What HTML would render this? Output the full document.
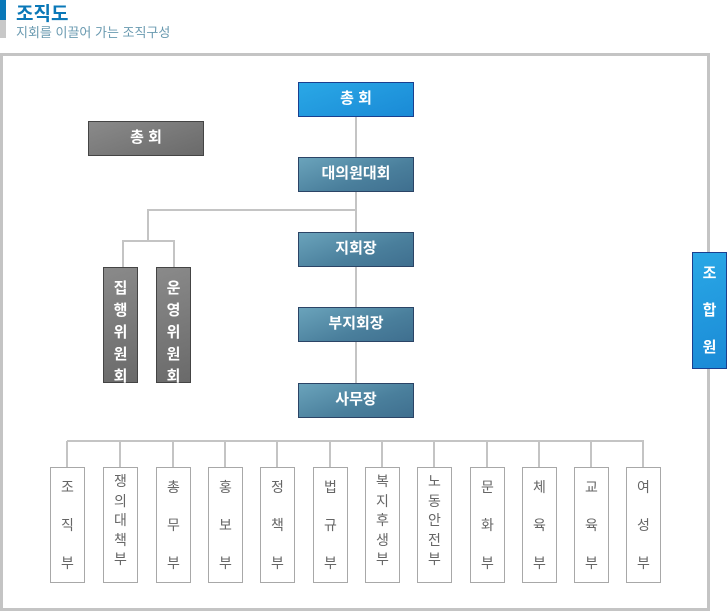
<!DOCTYPE html>
<html><head><meta charset="utf-8"><style>
*{margin:0;padding:0;box-sizing:border-box}
body{width:727px;height:612px;background:#fff;position:relative;overflow:hidden;font-family:"Liberation Sans","Noto Sans CJK KR",sans-serif}
.a{position:absolute}
.hb{position:absolute;color:#fff;font-weight:bold;font-size:15px;text-align:center;line-height:32px}
.blue{background:linear-gradient(160deg,#2aa8e6,#1a8ad6);border:1px solid #1a3f8f}
.steel{background:linear-gradient(160deg,#6aa3bb,#4a7f9c 60%,#3f6f8f);border:1px solid #2b4466}
.gray{background:linear-gradient(160deg,#8a8a8a,#6a6a6a);border:1px solid #444}
.v{position:absolute;color:#fff;font-weight:bold;font-size:15px;text-align:center;line-height:22px;padding-top:10px}
.d{position:absolute;width:35px;height:116px;border:1px solid #a8a8a8;background:#fff;color:#666;font-size:14px;text-align:center}
.l{position:absolute;background:#c4c4c4}
</style></head><body>
<div class="a" style="left:0;top:0;width:6px;height:20px;background:#0a78b8"></div>
<div class="a" style="left:0;top:20px;width:6px;height:18px;background:#c8c8c8"></div>
<div class="a" style="left:16px;top:-1px;font-size:19px;font-weight:bold;color:#0a78b8">조직도</div>
<div class="a" style="left:16px;top:22px;font-size:13px;color:#6a9ab0">지회를 이끌어 가는 조직구성</div>
<div class="a" style="left:0;top:53px;width:710px;height:558px;border:3px solid #c4c4c4"></div>

<div class="l" style="left:355px;top:116px;width:2px;height:267px"></div>
<div class="l" style="left:148px;top:209px;width:208px;height:2px"></div>
<div class="l" style="left:147px;top:209px;width:2px;height:33px"></div>
<div class="l" style="left:123px;top:240px;width:52px;height:2px"></div>
<div class="l" style="left:122px;top:240px;width:2px;height:27px"></div>
<div class="l" style="left:173px;top:240px;width:2px;height:27px"></div>
<div class="l" style="left:67px;top:440px;width:577px;height:2px"></div>

<div class="hb blue" style="left:298px;top:82px;width:116px;height:35px">총 회</div>
<div class="hb gray" style="left:88px;top:121px;width:116px;height:35px">총 회</div>
<div class="hb steel" style="left:298px;top:157px;width:116px;height:35px">대의원대회</div>
<div class="hb steel" style="left:298px;top:232px;width:116px;height:35px">지회장</div>
<div class="hb steel" style="left:298px;top:307px;width:116px;height:35px">부지회장</div>
<div class="hb steel" style="left:298px;top:383px;width:116px;height:35px">사무장</div>
<div class="v gray" style="left:103px;top:267px;width:35px;height:116px">집<br>행<br>위<br>원<br>회</div>
<div class="v gray" style="left:156px;top:267px;width:35px;height:116px">운<br>영<br>위<br>원<br>회</div>
<div class="v blue" style="left:692px;top:252px;width:35px;height:117px;line-height:37px;padding-top:2px">조<br>합<br>원</div>

<div id="deps"></div>
<script>
var n=[["조","직","부"],["쟁","의","대","책","부"],["총","무","부"],["홍","보","부"],["정","책","부"],["법","규","부"],["복","지","후","생","부"],["노","동","안","전","부"],["문","화","부"],["체","육","부"],["교","육","부"],["여","성","부"]];
var c=[67,120,173,225,277,330,382,434,487,539,591,643],h="";
for(var i=0;i<12;i++){
h+='<div class="l" style="left:'+(c[i]-1)+'px;top:441px;width:2px;height:26px"></div>';
var t=n[i],lh=t.length==3?38:19.5,pt=t.length==3?0:4;
h+='<div class="d" style="left:'+(c[i]-17)+'px;top:467px;line-height:'+lh+'px;padding-top:'+pt+'px">'+t.join('<br>')+'</div>';}
document.getElementById('deps').innerHTML=h;
</script>
</body></html>
